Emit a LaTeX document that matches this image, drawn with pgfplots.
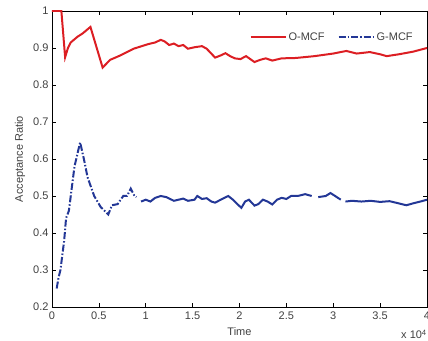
\documentclass[border=0pt]{standalone}
\usepackage{pgfplots}
\pgfplotsset{compat=1.18}
\usepackage{fontspec}
\setmainfont{Liberation Sans}
\definecolor{ored}{RGB}{220,30,35}
\definecolor{gblue}{RGB}{35,55,150}
\begin{document}
\begin{tikzpicture}
\begin{axis}[
  name=ax,
  scale only axis, width=375pt, height=296pt,
  xmin=0, xmax=4, ymin=0.2, ymax=1,
  xtick={0,0.5,...,4}, ytick={0.2,0.3,...,1},
  tick align=inside, major tick length=4pt,
  axis line style={line width=0.7pt},
  every tick/.style={black, line width=0.6pt},
  /pgf/number format/assume math mode=true,
  tick label style={font=\fontsize{11}{13}\selectfont, text=black!75},
  xticklabel style={yshift=-1pt},
  unbounded coords=jump,
  legend columns=2,
  legend style={at={(0.747,0.912)}, anchor=center, draw=none, fill=none,
    font=\fontsize{11}{13}\selectfont, text=black!75,
    /tikz/every even column/.append style={column sep=11pt}},
  legend image code/.code={\draw[#1] (0pt,0pt) -- (35pt,0pt);},
]
\addplot[ored, line width=2pt] coordinates {
(0,1.0) (0.1,1.0) (0.14,0.875) (0.17,0.9) (0.2,0.915) (0.27,0.93) (0.33,0.94) (0.41,0.957) (0.54,0.847) (0.62,0.868) (0.73,0.88) (0.87,0.898) (1.02,0.91) (1.1,0.915) (1.16,0.922) (1.2,0.918) (1.25,0.908) (1.3,0.912) (1.35,0.905) (1.4,0.908) (1.45,0.898) (1.52,0.902) (1.6,0.905) (1.65,0.898) (1.74,0.874) (1.8,0.88) (1.85,0.886) (1.9,0.878) (1.95,0.872) (2.01,0.87) (2.07,0.878) (2.16,0.862) (2.22,0.868) (2.28,0.872) (2.35,0.866) (2.45,0.872) (2.6,0.873) (2.8,0.878) (3.0,0.885) (3.14,0.892) (3.25,0.885) (3.39,0.889) (3.5,0.883) (3.57,0.878) (3.7,0.883) (3.85,0.89) (4.0,0.9)
};
\addlegendentry{O-MCF}
\addplot[gblue, line width=2pt, dash pattern=on 7pt off 2pt on 1.5pt off 2pt] coordinates {
(0.05,0.25) (0.07,0.28) (0.09,0.3) (0.11,0.34) (0.13,0.38) (0.15,0.44) (0.18,0.46) (0.21,0.52) (0.24,0.58) (0.3,0.645) (0.34,0.6) (0.38,0.55) (0.45,0.5) (0.52,0.47) (0.6,0.45) (0.64,0.475) (0.7,0.478) (0.76,0.5) (0.8,0.5) (0.84,0.52) (0.88,0.5) (0.9,0.497)
};
\addlegendentry{G-MCF}
\addplot[gblue, line width=2pt, forget plot] coordinates {
(0.95,0.485) (1.0,0.49) (1.05,0.485) (1.1,0.495) (1.16,0.5) (1.22,0.497) (1.3,0.487) (1.4,0.493) (1.45,0.487) (1.52,0.49) (1.55,0.5) (1.6,0.492) (1.65,0.494) (1.7,0.485) (1.74,0.482) (1.8,0.49) (1.88,0.5) (1.93,0.49) (1.99,0.475) (2.02,0.468) (2.06,0.485) (2.1,0.49) (2.16,0.474) (2.2,0.478) (2.25,0.49) (2.3,0.485) (2.35,0.477) (2.4,0.49) (2.45,0.495) (2.5,0.492) (2.55,0.5) (2.62,0.5) (2.7,0.505) (2.77,0.5)
(2.8,nan)
(2.84,0.497) (2.92,0.5) (2.97,0.508) (3.02,0.5) (3.08,0.49)
(3.1,nan)
(3.13,0.485) (3.2,0.487) (3.3,0.485) (3.4,0.487) (3.5,0.484) (3.6,0.486) (3.7,0.48) (3.78,0.475) (3.85,0.48) (3.93,0.485) (4.0,0.49)
};
\end{axis}
\node[font=\fontsize{11}{13}\selectfont, text=black!75] at ([yshift=-25pt]ax.south) {Time};
\node[rotate=90, font=\fontsize{11}{13}\selectfont, text=black!75] at ([xshift=-32pt]ax.west) {Acceptance Ratio};
\node[anchor=base west, inner sep=0pt, font=\fontsize{11}{13}\selectfont, text=black!75] at ([xshift=-26pt,yshift=-32pt]ax.south east) {x 10\textsuperscript{4}};
\pgfresetboundingbox
\path[use as bounding box] ([xshift=-52pt,yshift=-34pt]ax.south west) rectangle ([xshift=1pt,yshift=11pt]ax.north east);
\end{tikzpicture}
\end{document}
